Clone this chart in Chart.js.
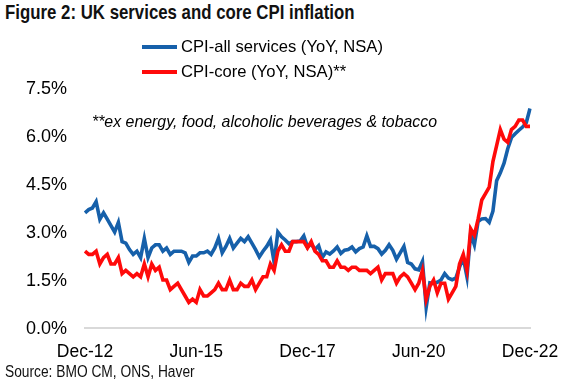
<!DOCTYPE html>
<html>
<head>
<meta charset="utf-8">
<script src="https://cdn.jsdelivr.net/npm/chart.js@4.4.1/dist/chart.umd.min.js"></script>
<style>
  html, body { margin: 0; padding: 0; background: #fff; }
  body { width: 574px; height: 382px; position: relative; overflow: hidden; }
  #c { position: absolute; left: 0; top: 0; }
  .title { position: absolute; left: 5px; top: 0px; font: bold 19.8px "Liberation Sans", Arial, sans-serif; line-height: 24px; color: #111; white-space: nowrap; transform: scaleX(0.85); transform-origin: 0 0; }
  .source { position: absolute; left: 5px; top: 362px; font: 16px "Liberation Sans", Arial, sans-serif; line-height: 20px; color: #111; white-space: nowrap; transform: scaleX(0.86); transform-origin: 0 0; }
</style>
</head>
<body>
<div class="title">Figure 2: UK services and core CPI inflation</div>
<canvas id="c" width="574" height="382"></canvas>
<div class="source">Source: BMO CM, ONS, Haver</div>
<script>
// ---- data ----
const monthNames = ['Jan','Feb','Mar','Apr','May','Jun','Jul','Aug','Sep','Oct','Nov','Dec'];
const startYear = 2012, startMonth = 11, monthCount = 121; // Dec-12 .. Dec-22
const categories = [];
for (let k = 0; k < monthCount; k++) {
  const m = (startMonth + k) % 12;
  const y = startYear + Math.floor((startMonth + k) / 12);
  categories.push(monthNames[m] + '-' + String(y).slice(2));
}
const tickLabels = ['Dec-12', 'Jun-15', 'Dec-17', 'Jun-20', 'Dec-22'];
const yTicks = [0, 1.5, 3.0, 4.5, 6.0, 7.5];

const servicesLabel = 'CPI-all services (YoY, NSA)';
const coreLabel = 'CPI-core (YoY, NSA)**';
const noteText = '**ex energy, food, alcoholic beverages & tobacco';

const services = [
  3.6,
  3.7, 3.75, 3.95, 3.4, 3.6, 3.4, 3.2, 3.0, 3.3, 2.7, 2.65, 2.45,
  2.3, 2.4, 2.2, 2.8, 2.2, 2.5, 2.6, 2.6, 2.4, 2.5, 2.3, 2.4,
  2.4, 2.4, 2.35, 2.05, 2.25, 2.25, 2.35, 2.35, 2.4, 2.3, 2.5, 2.8,
  2.35, 2.55, 2.8, 2.5, 2.65, 2.8, 2.7, 2.85, 2.65, 2.45, 2.22, 2.4,
  2.55, 2.75, 2.05, 3.0, 2.85, 2.75, 2.63, 2.7, 2.7, 2.72, 2.88, 2.53,
  2.63, 2.45, 2.57, 2.2, 2.38, 2.31, 2.41, 2.53, 2.33, 2.43, 2.45, 2.53,
  2.38, 2.48, 2.53, 2.88, 2.55, 2.55, 2.48, 2.31, 2.43, 2.6, 2.43, 2.15,
  2.35, 2.55, 2.05, 2.0, 1.85, 1.82, 2.08, 0.65, 1.41, 1.39, 1.43, 1.5,
  1.7, 1.56, 1.51, 1.56, 1.9, 2.2, 1.6, 2.95, 2.6, 3.33, 3.41, 3.42,
  3.3, 3.65, 4.6, 4.85, 5.15, 5.6, 5.95, 6.07, 6.18, 6.28, 6.42, 6.86
];
const core = [
  2.4,
  2.3, 2.3, 2.4, 2.0, 2.2, 2.3, 2.0, 2.0, 2.2, 1.7, 1.8, 1.7,
  1.6, 1.7, 1.6, 2.0, 1.6, 2.0, 1.8, 1.9, 1.5, 1.5, 1.2, 1.3,
  1.4, 1.2, 1.0, 0.8, 0.9, 0.8, 1.2, 1.0, 1.0, 1.1, 1.2, 1.4,
  1.2, 1.2, 1.5, 1.2, 1.2, 1.4, 1.3, 1.3, 1.5, 1.2, 1.4, 1.6,
  1.6, 2.0, 1.8, 2.4, 2.6, 2.4, 2.4, 2.7, 2.7, 2.7, 2.7, 2.5,
  2.7, 2.4, 2.3, 2.1, 2.1, 1.9, 1.9, 2.1, 1.9, 1.9, 1.8, 1.9,
  1.9, 1.8, 1.8, 1.8, 1.7, 1.8, 1.9, 1.5, 1.7, 1.7, 1.7, 1.4,
  1.6, 1.7, 1.6, 1.4, 1.2, 1.4, 1.8, 0.9, 1.3, 1.5, 1.1, 1.4,
  1.4, 0.9, 1.1, 1.3, 2.0, 2.3, 1.8, 3.1, 2.9, 3.4, 4.0, 4.2,
  4.4, 5.2, 5.7, 6.2, 5.9, 5.8, 6.2, 6.3, 6.5, 6.5, 6.3, 6.3
];

const BLUE = '#1660AA';
const RED = '#FF0A0A';
const FONT = '"Liberation Sans", Arial, sans-serif';

// legend + note drawn as text
const legendPlugin = {
  id: 'customLegend',
  afterDraw(chart) {
    const ctx = chart.ctx;
    ctx.save();
    const items = [
      { ds: chart.data.datasets[0], y: 47 },
      { ds: chart.data.datasets[1], y: 72 }
    ];
    items.forEach(it => {
      ctx.strokeStyle = it.ds.borderColor;
      ctx.lineWidth = 4;
      ctx.beginPath();
      ctx.moveTo(142, it.y);
      ctx.lineTo(177, it.y);
      ctx.stroke();
      ctx.fillStyle = '#000';
      ctx.font = '16.6px ' + FONT;
      ctx.textBaseline = 'middle';
      ctx.textAlign = 'left';
      ctx.fillText(it.ds.label, 181, it.y);
    });
    ctx.font = 'italic 15.9px ' + FONT;
    ctx.fillStyle = '#000';
    ctx.textBaseline = 'middle';
    ctx.fillText(noteText, 92, 123);
    ctx.restore();
  }
};

new Chart(document.getElementById('c'), {
  type: 'line',
  data: {
    labels: categories,
    datasets: [
      { label: servicesLabel, data: services, borderColor: BLUE, backgroundColor: BLUE, borderWidth: 3.6, pointRadius: 0, tension: 0, order: 1 },
      { label: coreLabel, data: core, borderColor: RED, backgroundColor: RED, borderWidth: 3.6, pointRadius: 0, tension: 0, order: 0 }
    ]
  },
  options: {
    responsive: false,
    animation: false,
    devicePixelRatio: 1,
    layout: { padding: { top: 40, right: 44, bottom: 0, left: 0 } },
    plugins: { legend: { display: false }, tooltip: { enabled: false }, title: { display: false } },
    scales: {
      x: {
        type: 'category',
        offset: false,
        grid: { display: false, drawTicks: false },
        border: { display: true, color: '#d9d9d9', width: 2 },
        ticks: {
          autoSkip: false, maxRotation: 0, minRotation: 0, padding: 14,
          color: '#000', font: { family: FONT, size: 17.5 },
          callback: function (v, i) { const l = categories[i]; return tickLabels.includes(l) ? l : ''; }
        },
        afterFit: function (s) { s.height = 54; }
      },
      y: {
        min: 0, max: 9,
        grid: { display: false, drawTicks: false },
        border: { display: false },
        afterBuildTicks: function (s) { s.ticks = yTicks.concat([9]).map(v => ({ value: v })); },
        ticks: {
          padding: 18, labelOffset: 1.5, color: '#000', font: { family: FONT, size: 18 },
          callback: function (v) { return yTicks.includes(v) ? v.toFixed(1) + '%' : ''; }
        },
        afterFit: function (s) { s.width = 85; }
      }
    }
  },
  plugins: [legendPlugin]
});
</script>
</body>
</html>
